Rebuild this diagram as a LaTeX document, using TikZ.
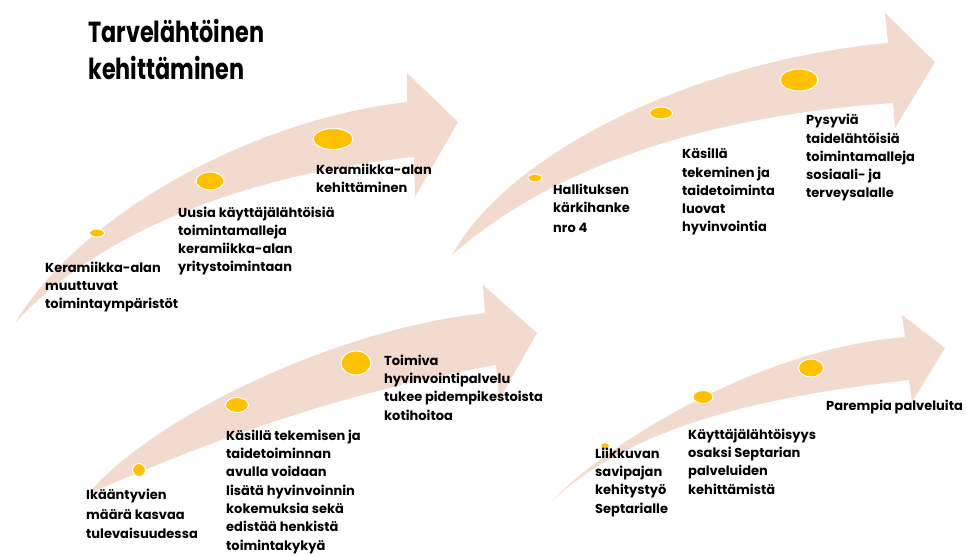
\documentclass[tikz,border=0pt]{standalone}
\usepackage{fontspec}
\setmainfont{Poppins}
\newfontfamily\titlefont{Poppins}[FakeStretch=0.77]
\usetikzlibrary{shapes.geometric}
\definecolor{arrowpink}{RGB}{242,218,207}
\definecolor{dotgold}{RGB}{255,192,0}
\begin{document}
\begin{tikzpicture}[x=1pt,y=-1pt,
  swoosh/.style={fill=arrowpink,draw=none},
  dot/.style={ellipse,fill=dotgold,draw=white,line width=1pt,inner sep=0pt},
  lbl/.style={anchor=base west,align=left,inner sep=0pt,
    font=\fontsize{13}{18.3}\selectfont\bfseries},
  ttl/.style={anchor=base west,align=left,inner sep=0pt,
    font=\titlefont\fontsize{29}{37}\selectfont\bfseries}]
\useasboundingbox (0,0) rectangle (967,556);
% arrows
\fill[swoosh] (15,323) .. controls (80,215) and (250,120) .. (407,102) -- (407,73) -- (458,122) -- (415,197) -- (414,157) .. controls (270,172) and (110,220) .. (15,323) -- cycle;
\fill[swoosh] (452,255) .. controls (510,150) and (700,60) .. (888,43) -- (885,13) -- (935,62) -- (895,128) -- (893,103) .. controls (720,115) and (560,160) .. (452,255) -- cycle;
\fill[swoosh] (88,494) .. controls (150,420) and (330,330) .. (485,313) -- (483,285) -- (537,333) -- (499,400) -- (496,365) .. controls (330,395) and (200,445) .. (88,494) -- cycle;
\fill[swoosh] (553,500) .. controls (600,450) and (750,350) .. (905,337) -- (902,315) -- (945,348) -- (912,402) -- (909,380) .. controls (780,395) and (640,420) .. (553,500) -- cycle;
% dots
\node[dot,minimum width=15pt,minimum height=8pt] (d11) at (97,233) {};
\node[dot,minimum width=28pt,minimum height=18pt] (d12) at (210,181) {};
\node[dot,minimum width=40pt,minimum height=21pt] (d13) at (333,139) {};
\node[dot,minimum width=14pt,minimum height=8pt] (d21) at (535,178) {};
\node[dot,minimum width=23pt,minimum height=12pt] (d22) at (661,113) {};
\node[dot,minimum width=38pt,minimum height=22pt] (d23) at (799,80) {};
\node[dot,minimum width=13pt,minimum height=13pt] (d31) at (139,470) {};
\node[dot,minimum width=23pt,minimum height=15pt] (d32) at (237,405) {};
\node[dot,minimum width=30pt,minimum height=24pt] (d33) at (356,363) {};
\node[dot,minimum width=9pt,minimum height=7pt] (d41) at (605,446) {};
\node[dot,minimum width=20pt,minimum height=13pt] (d42) at (703,397) {};
\node[dot,minimum width=25pt,minimum height=18pt] (d43) at (811,368) {};
% title (anchor at baseline of last line)
\node[ttl] (title) at (88,80) {Tarvelähtöinen\\kehittäminen};
% labels (anchor at baseline of last line)
\node[lbl] (l11) at (45,308.6) {Keramiikka-alan\\muuttuvat\\toimintaympäristöt};
\node[lbl] (l12) at (178,272) {Uusia käyttäjälähtöisiä\\toimintamalleja\\keramiikka-alan\\yritystoimintaan};
\node[lbl] (l13) at (316,193) {Keramiikka-alan\\kehittäminen};
\node[lbl] (l21) at (553,233) {Hallituksen\\kärkihanke\\[2pt]nro 4};
\node[lbl] (l22) at (682,232) {Käsillä\\tekeminen ja\\taidetoiminta\\luovat\\hyvinvointia};
\node[lbl] (l23) at (806,198) {Pysyviä\\taidelähtöisiä\\toimintamalleja\\sosiaali- ja\\terveysalalle};
\node[lbl] (l31) at (86,538) {Ikääntyvien\\[2pt]määrä kasvaa\\tulevaisuudessa};
\node[lbl] (l32) at (226,550) {Käsillä tekemisen ja\\taidetoiminnan\\avulla voidaan\\lisätä hyvinvoinnin\\kokemuksia sekä\\edistää henkistä\\toimintakykyä};
\node[lbl] (l33) at (384,420) {Toimiva\\hyvinvointipalvelu\\tukee pidempikestoista\\kotihoitoa};
\node[lbl] (l41) at (595,513) {Liikkuvan\\savipajan\\kehitystyö\\Septarialle};
\node[lbl] (l42) at (688,494) {Käyttäjälähtöisyys\\osaksi Septarian\\palveluiden\\kehittämistä};
\node[lbl] (l43) at (826,410) {Parempia palveluita};
\end{tikzpicture}
\end{document}
